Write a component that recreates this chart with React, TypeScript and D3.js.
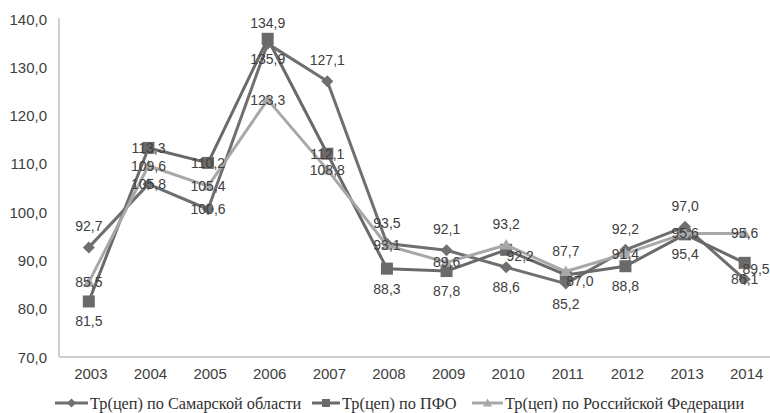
import React from "react";
import * as d3 from "d3";

const years = ["2003","2004","2005","2006","2007","2008","2009","2010","2011","2012","2013","2014"];
const samara = [92.7, 105.8, 100.6, 134.9, 127.1, 93.5, 92.1, 88.6, 85.2, 92.2, 97.0, 86.1];
const pfo = [81.5, 113.3, 110.2, 135.9, 112.1, 88.3, 87.8, 92.2, 87.0, 88.8, 95.4, 89.5];
const russia = [85.5, 109.6, 105.4, 123.3, 108.8, 93.1, 89.6, 93.2, 87.7, 91.4, 95.6, 95.6];
const yTicks = [70, 80, 90, 100, 110, 120, 130, 140];
const seriesNames = ["Тр(цеп) по Самарской области", "Тр(цеп) по ПФО", "Тр(цеп) по Российской Федерации"];
// label placement: t=above, b=below, c=center, r=right
const samaraPlace = ["t","c","c","t","t","t","t","b","b","t","t","c"];
const pfoPlace = ["b","c","c","b","c","b","b","r","r","b","b","r"];
const russiaPlace = ["c","c","c","c","c","c","c","t","t","c","c","c"];

const W = 770, H = 413;
const left = 59, right = 774.5, top = 19, bottom = 357;

const fmt = (v: number) => v.toFixed(1).replace(".", ",");

function Marker({ kind, x, y, color, s }: { kind: string; x: number; y: number; color: string; s: number }) {
  if (kind === "diamond") {
    const r = s / 2;
    return <path d={`M${x},${y - r}L${x + r},${y}L${x},${y + r}L${x - r},${y}Z`} fill={color} />;
  }
  if (kind === "square") {
    return <rect x={x - s / 2} y={y - s / 2} width={s} height={s} fill={color} />;
  }
  const r = s / 2;
  return <path d={`M${x},${y - r}L${x + r},${y + r * 0.75}L${x - r},${y + r * 0.75}Z`} fill={color} />;
}

export default function App() {
  const x = d3.scaleBand<string>().domain(years).range([left, right]).padding(0);
  const y = d3.scaleLinear().domain([70, 140]).range([bottom, top]);
  const cx = (i: number) => (x(years[i]) as number) + x.bandwidth() / 2;
  const line = d3.line<number>().x((_, i) => cx(i)).y((d) => y(d));

  const series = [
    { name: seriesNames[0], data: samara, place: samaraPlace, color: "#6f6f6f", marker: "diamond", ms: 12, lms: 9 },
    { name: seriesNames[1], data: pfo, place: pfoPlace, color: "#6a6a6a", marker: "square", ms: 12, lms: 8 },
    { name: seriesNames[2], data: russia, place: russiaPlace, color: "#a8a8a8", marker: "triangle", ms: 12, lms: 9 },
  ];

  const legend = [
    { lx: 55, tx: 90 },
    { lx: 312, tx: 342 },
    { lx: 472, tx: 505 },
  ];

  const textColor = "#404040";
  const sans = "'Liberation Sans', Arial, sans-serif";

  return (
    <div style={{ position: "absolute", left: 0, top: 0 }}>
      <svg width={W} height={H} style={{ display: "block", background: "#fff" }}>
        <line x1={left} y1={top - 1} x2={left} y2={bottom} stroke="#bfbfbf" strokeWidth={1.5} />
        <line x1={left} y1={bottom} x2={W} y2={bottom} stroke="#bfbfbf" strokeWidth={1.5} />
        {yTicks.map((t) => (
          <text key={t} x={47} y={y(t)} textAnchor="end" dominantBaseline="central"
            fontFamily={sans} fontSize={15} fill={textColor}>
            {fmt(t)}
          </text>
        ))}
        {years.map((yr, i) => (
          <text key={yr} x={cx(i) + 2} y={373} textAnchor="middle" dominantBaseline="central"
            fontFamily={sans} fontSize={15} fill={textColor}>
            {yr}
          </text>
        ))}
        {series.map((s) => (
          <g key={s.name}>
            <path d={line(s.data) || ""} fill="none" stroke={s.color} strokeWidth={3} strokeLinejoin="round" />
            {s.data.map((v, i) => (
              <Marker key={i} kind={s.marker} x={cx(i)} y={y(v)} color={s.color} s={s.ms} />
            ))}
          </g>
        ))}
        {series.map((s) => (
          <g key={s.name + "l"}>
            {s.data.map((v, i) => {
              const p = s.place[i];
              let lx = cx(i), ly = y(v);
              if (p === "t") ly -= 21;
              else if (p === "b") ly += 20;
              else if (p === "r") { lx += 14; ly += 6; }
              return (
                <text key={i} x={Math.min(lx, W - 14)} y={ly} textAnchor="middle" dominantBaseline="central"
                  fontFamily={sans} fontSize={14} fill={textColor}>
                  {fmt(v)}
                </text>
              );
            })}
          </g>
        ))}
        {series.map((s, k) => (
          <g key={s.name + "lg"}>
            <line x1={legend[k].lx} y1={403} x2={legend[k].tx - 2} y2={403} stroke={s.color} strokeWidth={3} />
            <Marker kind={s.marker} x={(legend[k].lx + legend[k].tx - 2) / 2} y={403} color={s.color} s={s.lms} />
            <text x={legend[k].tx} y={403} dominantBaseline="central"
              style={{ fontFamily: "\"Liberation Serif\", \"DejaVu Serif\", serif", fontSize: "16.3px" }} fill="#303030">
              {s.name}
            </text>
          </g>
        ))}
      </svg>
    </div>
  );
}
